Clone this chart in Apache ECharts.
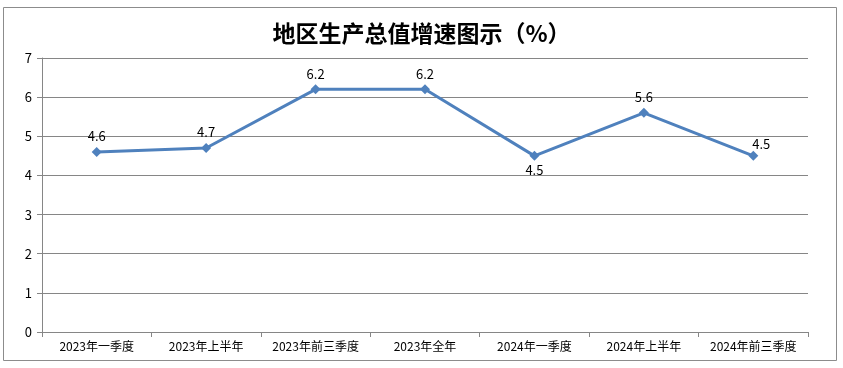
<!DOCTYPE html>
<html><head><meta charset="utf-8">
<script src="https://cdn.jsdelivr.net/npm/echarts@6/dist/echarts.min.js"></script>
<style>html,body{margin:0;padding:0;background:#fff}#c{width:843px;height:368px}</style>
</head><body><div id="c"></div>
<script>
const categories = ['2023年一季度','2023年上半年','2023年前三季度','2023年全年','2024年一季度','2024年上半年','2024年前三季度'];
const growth = [4.6, 4.7, 6.2, 6.2, 4.5, 5.6, 4.5];
const titleText = '地区生产总值增速图示（%）';

const chart = echarts.init(document.getElementById('c'));
const data = growth.map((v, i) => {
  const d = {value: v};
  if (i === 4) d.label = {position: 'bottom', distance: 3};
  if (i === 6) d.label = {position: 'top', offset: [8, 4]};
  return d;
});
chart.setOption({
  backgroundColor: '#fff',
  animation: false,
  graphic: [{type: 'rect', shape: {x: 3.5, y: 7.5, width: 833, height: 353}, style: {fill: 'none', stroke: '#8c8c8c', lineWidth: 1}, z: -1}],
  title: {text: titleText, left: 'center', top: 17, textStyle: {fontFamily: 'Noto Sans CJK SC', fontWeight: 'bold', fontSize: 23, color: '#000'}},
  grid: {left: 42, right: 35, top: 58, bottom: 36},
  xAxis: {
    type: 'category', data: categories, boundaryGap: true,
    axisLine: {lineStyle: {color: '#868686', width: 1}},
    axisTick: {show: true, alignWithLabel: false, length: 5, lineStyle: {color: '#868686'}},
    axisLabel: {color: '#000', fontSize: 12, fontFamily: 'Noto Sans CJK SC', margin: 8, interval: 0}
  },
  yAxis: {
    type: 'value', min: 0, max: 7, interval: 1,
    axisLine: {show: true, lineStyle: {color: '#868686'}},
    axisTick: {show: true, length: 5, lineStyle: {color: '#868686'}},
    splitLine: {lineStyle: {color: '#868686', width: 1}},
    axisLabel: {color: '#000', fontSize: 13, fontFamily: 'Noto Sans CJK SC', margin: 10}
  },
  series: [{
    type: 'line', data: data,
    symbol: 'diamond', symbolSize: 10,
    lineStyle: {color: '#4F81BD', width: 3},
    itemStyle: {color: '#4F81BD'},
    label: {show: true, position: 'top', distance: 4, color: '#000', fontSize: 13, fontFamily: 'Noto Sans CJK SC'}
  }]
});
</script></body></html>
